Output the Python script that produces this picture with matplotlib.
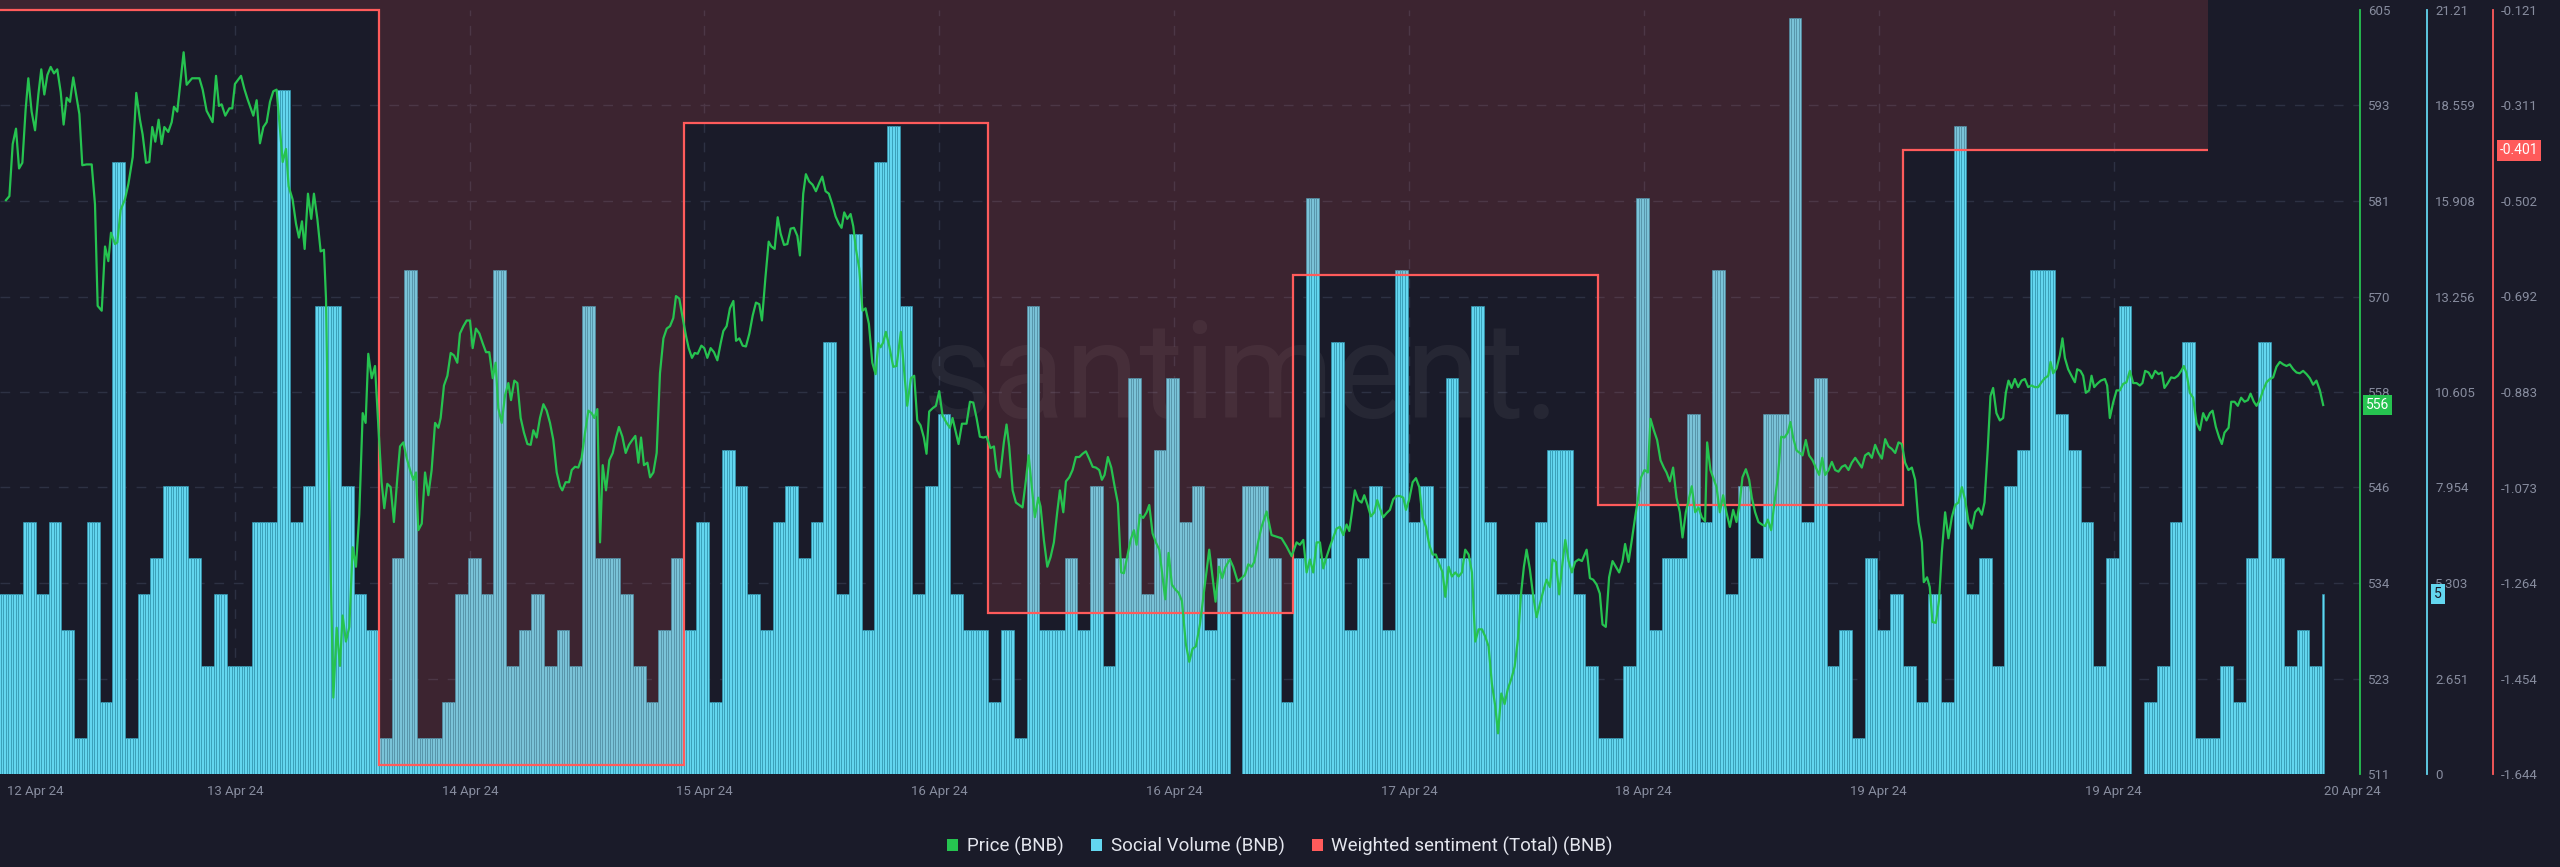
import numpy as np
import matplotlib
matplotlib.use("Agg")
import matplotlib.pyplot as plt
from matplotlib.patches import Patch
from matplotlib.transforms import blended_transform_factory

# ---------------- data ----------------
# hourly social volume (hour index 0 .. 183)
social_volume = [
    5, 5, 7, 5, 7, 4, 1, 7, 2, 17, 1, 5, 6, 8, 8, 6, 3, 5, 3, 3, 7, 7, 19, 7, 8, 13, 13, 8, 5, 4, 1, 6,
    14, 1, 1, 2, 5, 6, 5, 14, 3, 4, 5, 3, 4, 3, 13, 6, 6, 5, 3, 2, 4, 6, 4, 7, 2, 9, 8, 5, 4, 7, 8, 6,
    7, 12, 5, 15, 4, 17, 18, 13, 5, 8, 10, 5, 4, 4, 2, 4, 1, 13, 4, 4, 6, 4, 8, 3, 6, 11, 5, 9, 11, 7, 8,
    4, 6, 0, 8, 8, 6, 2, 6, 16, 6, 12, 4, 6, 8, 4, 14, 7, 8, 6, 11, 6, 13, 7, 5, 5, 5, 7, 9, 9, 5, 3,
    1, 1, 3, 16, 4, 6, 6, 10, 7, 14, 5, 8, 6, 10, 10, 21, 7, 11, 3, 4, 1, 6, 4, 5, 3, 2, 5, 2, 18, 5, 6, 3,
    8, 9, 14, 14, 10, 9, 7, 3, 6, 13, 0, 2, 3, 7, 12, 1, 1, 3, 2, 6, 12, 6, 3, 4, 3, 5,
]
social_last_hour = 183.25

price_hours = [
    0.63, 0.90, 1.16, 1.42, 1.66, 1.92, 2.18, 2.39, 2.65, 2.92, 3.18, 3.41, 3.65, 3.89, 4.15, 4.41, 4.67,
    4.94, 5.17, 5.41, 5.67, 5.93, 6.41, 6.64, 6.98, 7.38, 7.64, 7.85, 8.17, 8.43, 8.69, 8.90, 9.22, 9.40,
    9.66, 10.00, 10.27, 10.61, 10.89, 11.18, 11.39, 11.66, 11.92, 12.15, 12.39, 12.65, 12.89, 13.10, 13.41,
    13.68, 13.86, 14.12, 14.39, 14.62, 14.86, 15.28, 15.86, 16.12, 16.43, 16.90, 17.17, 17.40, 17.61, 17.90,
    18.22, 18.45, 18.66, 19.14, 19.40, 19.66, 20.11, 20.37, 20.63, 20.90, 21.16, 21.42, 21.68, 21.94, 22.21,
    22.42, 22.68, 22.89, 23.20, 23.47, 23.70, 23.94, 24.15, 24.41, 24.67, 24.88, 25.15, 25.41, 25.67, 25.83,
    26.01, 26.20, 26.41, 26.67, 26.93, 27.14, 27.40, 27.67, 27.93, 28.19, 28.45, 28.72, 28.95, 29.16, 29.43,
    29.69, 29.95, 30.21, 30.42, 30.66, 30.92, 31.18, 31.45, 31.66,
    31.92, 32.18, 32.45, 32.71, 32.92, 33.10, 33.37, 33.63, 33.89, 34.15, 34.42, 34.68, 34.86, 35.12, 35.39,
    35.65, 35.91, 36.17, 36.38, 36.65, 36.91, 37.17, 37.38, 37.64, 37.91, 38.17, 38.43, 38.69, 38.96, 39.19,
    39.40, 39.67, 39.93, 40.19, 40.40, 40.66, 40.90, 41.16, 41.42, 41.69, 41.95, 42.16, 42.42, 42.68, 42.95,
    43.21, 43.47, 43.73, 44.00, 44.26, 44.44, 44.70, 44.97, 45.18, 45.44, 45.70, 45.96, 46.23, 46.49, 46.75,
    46.96, 47.20, 47.41, 47.62, 47.88, 48.14, 48.41, 48.67, 48.90, 49.17, 49.43, 49.69, 49.95, 50.19, 50.43,
    50.64, 50.87, 51.14, 51.35, 51.61, 51.87, 52.13, 52.40, 52.66, 52.92, 53.18, 53.39, 53.65, 53.92, 54.18,
    54.39, 54.65, 54.86, 55.10, 55.39, 55.62, 55.86, 56.12, 56.38, 56.65, 56.91, 57.12, 57.38, 57.64, 57.91,
    58.12, 58.38, 58.64, 58.90, 59.17, 59.43, 59.69, 59.95, 60.16, 60.43, 60.69, 60.90, 61.16, 61.40, 61.63,
    61.90, 62.16, 62.42, 62.68, 62.95, 63.15,
    63.41, 63.62, 63.88, 64.15, 64.41, 64.67, 64.91, 65.17, 65.43, 65.70, 65.96, 66.22, 66.43, 66.64, 66.88,
    67.14, 67.35, 67.56, 67.82, 68.08, 68.32, 68.58, 68.85, 69.11, 69.32, 69.50, 69.71, 69.92, 70.18, 70.50,
    70.76, 71.10, 71.34, 71.60, 71.89, 72.15, 72.39, 72.65, 72.91, 73.12, 73.33, 73.60, 73.86, 74.12, 74.38,
    74.70, 74.96, 75.17, 75.43, 75.64, 75.91, 76.27, 76.54, 76.80, 77.06, 77.32, 77.59, 77.85, 78.16, 78.43,
    78.64, 78.90, 79.21, 79.42, 79.63, 79.90, 80.16, 80.42, 80.68, 80.95, 81.16, 81.39, 81.65, 81.92, 82.10,
    82.36, 82.63, 82.89, 83.15, 83.41, 83.62, 83.89, 84.10, 84.36, 84.62, 84.88, 85.15, 85.41, 85.67, 85.93,
    86.20, 86.46, 86.72, 86.93, 87.14, 87.40, 87.67, 87.93, 88.19, 88.45, 88.66, 88.93, 89.19, 89.45, 89.66,
    89.92, 90.18, 90.45, 90.66, 90.92, 91.18, 91.45, 91.71, 91.92, 92.18, 92.44, 92.71, 92.97, 93.23, 93.54,
    93.81, 94.07, 94.33, 94.65,
    95.38, 95.88, 96.15, 96.41, 96.67, 97.01, 97.27, 97.62, 97.93, 98.19, 98.46, 98.72, 98.93, 99.24, 99.50,
    99.90, 100.29, 101.08, 101.47, 101.87, 102.26, 102.52, 102.79, 103.05, 103.31, 103.57, 103.84, 104.10,
    104.36, 104.62, 104.89, 105.15, 105.41, 105.67, 105.94, 106.20, 106.41, 106.62, 106.85, 107.12, 107.38,
    107.59, 107.85, 108.11, 108.38, 108.61, 108.82, 109.09, 109.35, 109.61, 109.87, 110.14, 110.40, 110.66,
    110.87, 111.13, 111.40, 111.66, 111.92, 112.18, 112.45, 112.71, 112.97, 113.23, 113.50, 113.76, 113.97,
    114.23, 114.49, 114.76, 115.02, 115.28, 115.54, 115.81, 116.07, 116.33, 116.59, 116.86, 117.12, 117.38,
    117.64, 117.91, 118.12, 118.38, 118.64, 118.90, 119.17, 119.43, 119.69, 119.95, 120.16, 120.37, 120.63,
    120.90, 121.16, 121.42, 121.68, 121.95, 122.21, 122.42, 122.68, 122.94, 123.21, 123.42, 123.68, 123.94,
    124.20, 124.47, 124.73, 125.10, 125.36, 125.62, 125.89, 126.14,
    126.35, 126.61, 126.87, 127.14, 127.40, 127.66, 127.92, 128.13, 128.40, 128.66, 128.92, 129.13, 129.39,
    129.66, 129.92, 130.13, 130.39, 130.65, 130.92, 131.18, 131.39, 131.65, 131.91, 132.18, 132.44, 132.65,
    132.91, 133.17, 133.38, 133.65, 133.91, 134.17, 134.43, 134.59, 134.85, 135.12, 135.33, 135.59, 135.85,
    136.11, 136.38, 136.64, 136.90, 137.16, 137.37, 137.64, 137.90, 138.11, 138.37, 138.63, 138.90, 139.16,
    139.37, 139.63, 139.89, 140.16, 140.42, 140.68, 140.94, 141.15, 141.36, 141.63, 141.89, 142.10, 142.36,
    142.62, 142.89, 143.15, 143.41, 143.65, 143.88, 144.15, 144.41, 144.67, 144.93, 145.20, 145.46, 145.72,
    145.98, 146.25, 146.51, 146.77, 147.03, 147.30, 147.56, 147.82, 148.08, 148.35, 148.61, 148.87, 149.13,
    149.40, 149.66, 149.92, 150.18, 150.44, 150.71, 150.97, 151.23, 151.50, 151.65, 151.91, 152.12, 152.33,
    152.60, 152.86, 153.07, 153.33, 153.59, 153.86, 154.12, 154.38, 154.65, 154.91, 155.17, 155.43, 155.69,
    155.96, 156.22, 156.43, 156.69, 156.90, 157.11, 157.37, 157.64,
    157.90, 158.11, 158.32, 158.56, 158.82, 159.08, 159.35, 159.61, 159.87, 160.13, 160.40, 160.66, 160.92,
    161.18, 161.45, 161.63, 161.84, 162.10, 162.36, 162.57, 162.76, 163.02, 163.28, 163.55, 163.73, 163.99,
    164.20, 164.41, 164.67, 164.86, 165.07, 165.30, 165.59, 165.91, 166.09, 166.30, 166.56, 166.83, 167.09,
    167.35, 167.61, 167.88, 168.14, 168.40, 168.66, 168.87, 169.08, 169.35, 169.61, 169.87, 170.13, 170.40,
    170.60, 170.87, 171.13, 171.39, 171.66, 171.92, 172.13, 172.34, 172.60, 172.86, 173.13, 173.39, 173.65,
    173.91, 174.18, 174.39, 174.65, 174.91, 175.12, 175.33, 175.65, 175.86, 176.12, 176.38, 176.64, 176.91,
    177.17, 177.38, 177.64, 177.85, 178.11, 178.37, 178.64, 178.90, 179.16, 179.42, 179.69, 179.95, 180.21,
    180.47, 180.74, 181.00, 181.26, 181.52, 181.79, 182.05, 182.31, 182.57, 182.84, 183.10,
]
price_values = [
    581.6, 582.1, 588.5, 590.4, 585.5, 586.2, 592.8, 596.6, 592.5, 590.2, 594.6, 597.7, 594.6, 597.0, 598.0,
    597.2, 597.7, 594.9, 590.9, 594.2, 593.7, 596.7, 592.2, 585.9, 586.0, 586.0, 581.1, 568.6, 568.0, 575.9,
    574.1, 577.6, 576.2, 576.4, 580.4, 581.7, 583.6, 586.9, 594.8, 591.5, 589.7, 586.2, 586.3, 590.6, 588.8,
    591.5, 588.5, 590.6, 590.0, 591.2, 593.1, 592.5, 596.4, 599.8, 595.8, 596.6, 596.6, 595.2, 592.6, 591.2,
    596.9, 593.2, 593.4, 592.0, 592.9, 592.9, 595.9, 596.9, 595.3, 594.0, 592.0, 593.9, 588.6, 590.6, 591.2,
    593.7, 595.0, 595.2, 590.3, 586.3, 587.9, 583.3, 581.7, 578.7, 577.0, 579.0, 575.6, 582.4, 579.3, 582.4,
    579.3, 575.3, 575.5, 569.5, 552.4, 535.8, 520.4, 529.0, 524.3, 530.5, 527.3, 529.1, 538.9, 536.5, 542.9,
    555.4, 554.2, 562.7, 559.7, 561.2, 553.9, 546.9, 543.7, 546.7, 546.3, 542.0, 547.5, 551.3,
    551.8, 549.9, 548.4, 547.2, 548.1, 541.0, 541.8, 548.1, 545.3, 548.4, 554.2, 553.6, 554.8, 558.8, 560.0,
    562.8, 562.5, 561.6, 565.2, 566.1, 566.8, 566.8, 563.4, 565.8, 565.2, 564.0, 562.9, 562.9, 559.7, 561.6,
    556.0, 554.2, 557.6, 559.1, 557.0, 559.4, 559.1, 554.8, 553.0, 551.6, 551.5, 553.3, 552.4, 554.8, 556.5,
    555.7, 554.2, 552.1, 548.1, 546.4, 545.9, 546.9, 546.9, 548.4, 548.8, 548.7, 549.9, 553.0, 555.7, 555.4,
    554.8, 555.9, 539.5, 549.0, 545.9, 549.6, 550.5, 552.4, 553.7, 552.5, 550.5, 551.5, 552.1, 552.6, 549.3,
    552.4, 549.0, 549.3, 547.5, 548.1, 550.5, 560.3, 564.6, 565.8, 566.1, 567.1, 569.8, 569.5, 567.1, 564.9,
    563.4, 562.2, 562.8, 562.7, 563.7, 563.4, 562.2, 563.4, 562.9, 561.9, 564.0, 565.5, 566.1, 568.3, 569.2,
    564.3, 564.6, 563.7, 563.6, 565.2, 567.4, 569.0, 568.8, 566.8, 572.0, 576.5, 575.9, 575.6, 579.5, 577.5,
    576.1, 576.2, 578.1, 578.2, 577.2, 574.8,
    582.4, 584.8, 583.9, 583.5, 582.7, 583.7, 584.5, 582.7, 582.4, 581.1, 579.6, 578.7, 578.2, 580.1, 579.3,
    579.9, 578.4, 575.6, 573.2, 568.0, 568.3, 566.4, 561.6, 560.2, 564.0, 563.5, 564.1, 565.4, 563.7, 561.1,
    561.2, 565.4, 560.9, 556.3, 559.7, 560.0, 554.5, 553.9, 552.4, 550.4, 555.6, 556.0, 556.3, 558.1, 555.1,
    554.2, 553.6, 554.8, 553.0, 551.6, 554.1, 554.1, 556.8, 556.7, 554.8, 552.5, 552.4, 552.5, 551.1, 551.3,
    548.4, 547.5, 551.8, 554.0, 551.3, 545.9, 544.4, 544.1, 543.8, 547.2, 550.2, 546.6, 542.6, 545.0, 543.9,
    539.8, 536.5, 537.7, 539.5, 543.2, 545.9, 543.2, 547.0, 547.5, 548.4, 550.0, 550.0, 550.4, 550.7, 549.8,
    548.8, 548.7, 548.4, 547.2, 547.8, 550.0, 548.7, 546.4, 544.3, 535.8, 535.7, 537.8, 539.8, 541.0, 539.2,
    542.9, 542.5, 543.2, 544.1, 540.6, 539.5, 538.6, 535.2, 532.5, 538.2, 534.3, 533.7, 533.3, 532.3, 527.0,
    524.8, 526.4, 526.7, 529.4,
    538.6, 532.2, 536.5, 535.1, 536.5, 537.4, 536.5, 534.7, 535.1, 535.5, 536.8, 536.5, 537.1, 539.6, 541.4,
    543.3, 540.4, 540.0, 539.0, 537.8, 539.5, 539.2, 539.8, 535.8, 537.4, 535.8, 539.5, 539.5,
    536.3, 537.7, 539.0, 540.1, 541.2, 541.4, 540.4, 541.7, 540.9, 543.2, 545.9, 544.7, 544.4,
    545.3, 544.1, 542.7, 543.2, 544.7, 543.7, 542.6, 543.1, 543.5, 544.8, 545.2, 545.2, 545.0,
    543.5, 544.8, 546.9, 547.4, 546.3, 542.6, 541.4, 539.2, 538.0, 538.0, 536.8, 535.8, 532.8,
    536.5, 535.3, 535.8, 535.3, 535.8, 538.6, 538.0, 535.8, 527.3, 528.8, 528.8, 527.9, 526.7,
    522.1, 519.3, 516.0, 520.9, 519.6, 521.5, 522.7, 524.2, 527.6, 533.4, 536.5, 538.6, 536.2,
    532.8, 530.3, 531.9, 533.5, 534.9, 534.0, 537.4, 537.1, 533.1, 537.1, 539.8, 537.2, 535.8,
    537.1, 537.4, 537.2, 538.6, 535.1, 534.9, 534.3, 533.2,
    529.4, 529.1, 535.2, 537.2, 536.5, 535.8, 537.1, 539.3, 537.1, 539.8, 542.6, 544.7, 547.5,
    548.4, 548.1, 554.7, 553.3, 552.1, 549.6, 548.7, 548.1, 547.0, 548.7, 545.0, 543.2, 540.1,
    543.2, 545.0, 546.4, 543.2, 543.8, 542.6, 542.1, 551.8, 548.4, 547.2, 546.3, 543.2, 545.3,
    543.2, 541.4, 543.5, 542.0, 544.4, 547.5, 548.5, 547.2, 545.0, 543.2, 542.0, 541.7, 541.5,
    542.3, 541.0, 544.4, 547.5, 552.5, 552.4, 553.0, 554.3, 552.4, 550.8, 550.5, 550.2, 552.1,
    550.2, 549.6, 548.7, 547.8, 549.9, 547.8, 548.4, 549.4, 548.4, 548.2, 548.8, 549.0, 548.4,
    549.3, 549.9, 549.3, 548.7, 550.2, 550.5, 549.9, 551.5, 550.5, 549.8, 552.2, 551.3, 551.0,
    550.5, 551.8, 551.6, 549.3, 548.4, 548.7, 547.2, 542.0, 539.5, 534.6, 535.2, 534.0, 529.7,
    529.6, 532.5, 538.3, 543.2, 540.0, 542.6, 544.1, 544.4, 546.3, 544.7, 542.0, 541.2, 543.2,
    543.7, 542.9, 544.4, 551.1, 557.5, 558.5, 555.4, 554.5,
    554.8, 557.9, 559.4, 558.5, 559.6, 558.6, 559.4, 559.6, 558.6, 558.8, 558.6, 558.6, 559.2,
    559.7, 560.0, 561.7, 560.3, 560.9, 562.5, 564.6, 562.2, 560.8, 560.0, 559.2, 560.8, 560.6,
    560.0, 557.9, 558.2, 560.0, 558.6, 559.0, 559.4, 559.6, 558.8, 554.8, 556.7, 558.2, 558.2,
    559.0, 559.2, 560.6, 559.1, 559.1, 558.8, 559.1, 560.6, 560.4, 559.7, 560.6, 560.2, 560.4,
    558.5, 559.1, 559.8, 559.7, 560.0, 560.6, 561.2, 560.3, 557.9, 557.3, 554.2, 553.3, 555.4,
    554.5, 555.4, 555.7, 553.7, 552.4, 551.6, 553.0, 553.6, 556.8, 556.8, 556.3, 557.3, 556.8,
    557.0, 557.8, 556.8, 556.3, 557.0, 558.2, 559.2, 559.6, 559.8, 561.1, 561.7, 561.4, 561.2,
    561.4, 560.8, 560.4, 560.3, 560.6, 560.2, 559.7, 558.9, 559.4, 558.2, 556.4,
]

# daily weighted sentiment (step series), boundaries in hours
sentiment_edges = [-18, 6, 30, 54, 78, 102, 126, 150, 174]
sentiment_values = [-0.121, -0.121, -1.626, -0.347, -1.324, -0.649, -1.108, -0.401]

date_tick_hours = [2.92, 18.66, 37.17, 55.59, 74.10, 92.60, 111.10, 129.60, 148.10, 166.60, 185.40]
date_labels = ["12 Apr 24", "13 Apr 24", "14 Apr 24", "15 Apr 24", "16 Apr 24", "16 Apr 24",
               "17 Apr 24", "18 Apr 24", "19 Apr 24", "19 Apr 24", "20 Apr 24"]

price_ticks = [511, 522.75, 534.5, 546.25, 558, 569.75, 581.5, 593.25, 605]
price_tick_labels = ["511", "523", "534", "546", "558", "570", "581", "593", "605"]
social_ticks = [0, 2.651, 5.303, 7.954, 10.605, 13.256, 15.908, 18.559, 21.21]
social_tick_labels = ["0", "2.651", "5.303", "7.954", "10.605", "13.256", "15.908", "18.559", "21.21"]
sent_ticks = [-1.644, -1.454, -1.264, -1.073, -0.883, -0.692, -0.502, -0.311, -0.121]
sent_tick_labels = ["-1.644", "-1.454", "-1.264", "-1.073", "-0.883", "-0.692", "-0.502", "-0.311", "-0.121"]

legend_labels = ["Price (BNB)", "Social Volume (BNB)", "Weighted sentiment (Total) (BNB)"]

# ---------------- style ----------------
BG = "#1a1b29"
GREEN = "#26c350"
CYAN = "#63d6ef"
RED = "#ff5b5b"
GRID = "#2d3143"
TICK = "#878c9e"

plt.rcParams["font.family"] = ["Roboto", "DejaVu Sans"]

W, H = 2560, 867
fig = plt.figure(figsize=(W / 100, H / 100), dpi=100, facecolor=BG)
L, R, T, B = 0, 2360, 10, 774
ax_soc = fig.add_axes([L / W, 1 - B / H, (R - L) / W, (B - T) / H], facecolor=BG)
ax_sent = ax_soc.twinx()
ax_price = ax_soc.twinx()

XMIN, XMAX = 0.16, 186.0
ax_soc.set_xlim(XMIN, XMAX)

# social volume bars, drawn as thin stripes per hour
n_sub = 5
sv = np.asarray(social_volume, dtype=float)
stripe_x = np.arange(len(sv) * n_sub) / n_sub + 0.5 / n_sub
stripe_h = np.repeat(sv, n_sub)
keep = stripe_x < social_last_hour
ax_soc.bar(stripe_x[keep], stripe_h[keep], width=1 / n_sub, color=CYAN,
           edgecolor="#3298b2", linewidth=0.45, zorder=2)
ax_soc.set_ylim(social_ticks[0], social_ticks[-1])

# grid
for yv in social_ticks[1:-1]:
    ax_soc.axhline(yv, color=GRID, lw=1.0, dashes=(7, 7), zorder=0.5)
for xv in date_tick_hours[1:-1]:
    ax_soc.axvline(xv, color=GRID, lw=1.0, dashes=(7, 7), zorder=0.5)

# watermark
ax_soc.text(0.526, 0.466, "santiment.", transform=ax_soc.transAxes, ha="center",
            va="baseline", fontsize=97, color="white", alpha=0.055, zorder=0.6)

# weighted sentiment
s_lo, s_hi = sent_ticks[0], sent_ticks[-1]
ax_sent.set_ylim(s_lo, s_hi)
fill_top = s_hi + (s_hi - s_lo) * (T / (B - T))
ax_sent.stairs(sentiment_values, sentiment_edges, baseline=fill_top, fill=True,
               color=RED, alpha=0.15, lw=0, clip_on=False)
ax_sent.stairs(sentiment_values, sentiment_edges, baseline=None, color=RED, lw=1.6,
               clip_on=False)
ax_sent.set_xlim(XMIN, XMAX)

# price
ax_price.plot(price_hours, price_values, color=GREEN, lw=1.6, solid_joinstyle="round")
ax_price.set_ylim(price_ticks[0], price_ticks[-1])
ax_price.set_xlim(XMIN, XMAX)

# axes / spines
for ax in (ax_soc, ax_sent, ax_price):
    for s in ax.spines.values():
        s.set_visible(False)
    ax.tick_params(axis="y", length=0, pad=5.8, labelcolor=TICK, labelsize=9.5)

ax_soc.yaxis.tick_right()
ax_soc.set_yticks(social_ticks, social_tick_labels)
ax_soc.spines["right"].set_visible(True)
ax_soc.spines["right"].set_position(("axes", 1 + 67 / 2360))
ax_soc.spines["right"].set_color(CYAN)
ax_soc.spines["right"].set_linewidth(1.3)

ax_sent.set_yticks(sent_ticks, sent_tick_labels)
ax_sent.spines["right"].set_visible(True)
ax_sent.spines["right"].set_position(("axes", 1 + 133 / 2360))
ax_sent.spines["right"].set_color(RED)
ax_sent.spines["right"].set_linewidth(1.3)

ax_price.set_yticks(price_ticks, price_tick_labels)
ax_price.spines["right"].set_visible(True)
ax_price.spines["right"].set_position(("axes", 1.0))
ax_price.spines["right"].set_color(GREEN)
ax_price.spines["right"].set_linewidth(1.3)

ax_soc.set_xticks(date_tick_hours, date_labels)
ax_soc.tick_params(axis="x", length=0, pad=8, labelcolor=TICK, labelsize=9.5)

# last-value badges
def badge(ax, xfrac, val, text, fc, tc, dx):
    tr = blended_transform_factory(ax.transAxes, ax.transData)
    ax.annotate(text, xy=(xfrac, val), xycoords=tr, xytext=(dx, 0),
                textcoords="offset points", ha="left", va="center", fontsize=10,
                color=tc, annotation_clip=False,
                bbox=dict(boxstyle="square,pad=0.22", fc=fc, ec="none"))

badge(ax_price, 1.0, price_values[-1], f"{price_values[-1]:.0f}", GREEN, "white", 4.3)
badge(ax_soc, 1 + 67 / 2360, social_volume[-1], f"{social_volume[-1]:.0f}", CYAN, BG, 5.0)
badge(ax_sent, 1 + 133 / 2360, sentiment_values[-1], f"{sentiment_values[-1]:.3f}", RED, "white", 4.8)

# legend
handles = [Patch(fc=GREEN, ec="none"), Patch(fc=CYAN, ec="none"), Patch(fc=RED, ec="none")]
fig.legend(handles, legend_labels, loc="center", bbox_to_anchor=(0.5, 21 / H), ncol=3,
           frameon=False, handlelength=0.6, handleheight=0.6, handletextpad=0.45,
           columnspacing=1.45, fontsize=13.5, labelcolor="#e4e6ee")

fig.savefig("out.png", dpi=100, facecolor=BG)
